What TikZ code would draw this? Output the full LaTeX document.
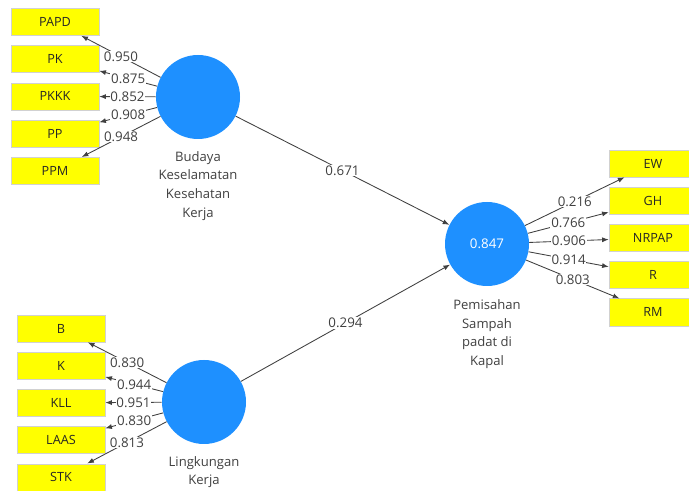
\documentclass[tikz,border=0pt]{standalone}
\usepackage{fontspec}
\setmainfont{Open Sans}
\usetikzlibrary{positioning,arrows.meta}
\definecolor{lvblue}{RGB}{30,144,255}
\definecolor{mvyellow}{RGB}{255,255,0}

\begin{document}
\begin{tikzpicture}[x=0.75pt,y=-0.75pt,node distance=7.2pt,
	indicator/.style={rectangle,draw=black!18,fill=mvyellow,minimum width=66pt,minimum height=20.3pt,inner sep=0pt,text=black!85,font=\fontsize{9.5}{11}\selectfont},
	latent/.style={circle,fill=lvblue,minimum size=63pt,inner sep=0pt,text=white,font=\fontsize{10}{12}\selectfont},
	caption/.style={align=center,inner sep=1pt,text=black!75,font=\fontsize{9.8}{13.9}\selectfont},
	loading/.style={fill=white,inner sep=0.6pt,text=black!75,font=\fontsize{10}{11}\selectfont},
	every edge/.style={draw=black!75,line width=0.65pt,-{Latex[length=5pt,width=3.8pt]}}]
	\useasboundingbox (0,0) rectangle (689,491);

	% latent variables
	\node[latent] (budaya) at (198,97) {};
	\node[latent] (lingkungan) at (204,402) {};
	\node[latent] (pemisahan) at (487,244) {0.847};
	\node[caption] (budaya_lbl) [below=8pt of budaya] {Budaya\\Keselamatan\\Kesehatan\\Kerja};
	\node[caption] (lingkungan_lbl) [below=8pt of lingkungan] {Lingkungan\\Kerja};
	\node[caption] (pemisahan_lbl) [below=9pt of pemisahan] {Pemisahan\\Sampah\\padat di\\Kapal};

	% indicators
	\node[indicator] (papd) at (55,22) {PAPD};
	\node[indicator] (pk) [below=of papd] {PK};
	\node[indicator] (pkkk) [below=of pk] {PKKK};
	\node[indicator] (pp) [below=of pkkk] {PP};
	\node[indicator] (ppm) [below=of pp] {PPM};

	\node[indicator] (b) at (61,328.5) {B};
	\node[indicator] (k) [below=of b] {K};
	\node[indicator] (kll) [below=of k] {KLL};
	\node[indicator] (laas) [below=of kll] {LAAS};
	\node[indicator] (stk) [below=of laas] {STK};

	\node[indicator] (ew) at (653,163.5) {EW};
	\node[indicator] (gh) [below=of ew] {GH};
	\node[indicator] (nrpap) [below=of gh] {NRPAP};
	\node[indicator] (r) [below=of nrpap] {R};
	\node[indicator] (rm) [below=of r] {RM};

	\path
	(budaya)
	edge node[loading] {0.950} (papd)
	edge node[loading] {0.875} (pk)
	edge node[loading] {0.852} (pkkk)
	edge node[loading] {0.908} (pp)
	edge node[loading] {0.948} (ppm)
	edge node[loading] {0.671} (pemisahan)
	(lingkungan)
	edge node[loading] {0.830} (b)
	edge node[loading] {0.944} (k)
	edge node[loading] {0.951} (kll)
	edge node[loading] {0.830} (laas)
	edge node[loading] {0.813} (stk)
	edge node[loading] {0.294} (pemisahan)
	(pemisahan)
	edge node[loading] {0.216} (ew)
	edge node[loading] {0.766} (gh)
	edge node[loading] {0.906} (nrpap)
	edge node[loading] {0.914} (r)
	edge node[loading] {0.803} (rm);
\end{tikzpicture}
\end{document}
